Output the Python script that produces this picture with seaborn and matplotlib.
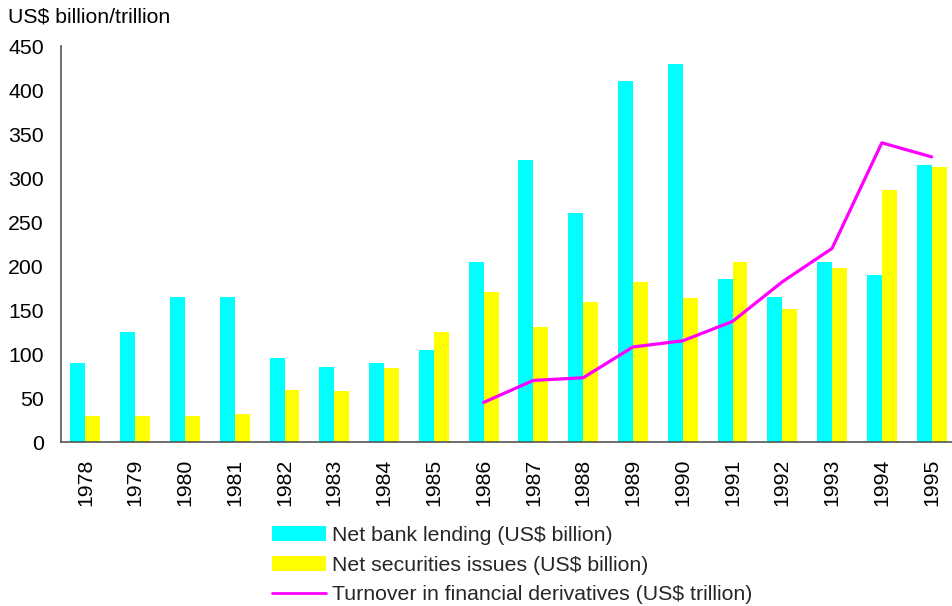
import matplotlib
matplotlib.use("Agg")
import matplotlib.pyplot as plt
import seaborn as sns
import pandas as pd
from matplotlib.ticker import FixedLocator
from matplotlib.patches import Patch
from matplotlib.lines import Line2D

years = [str(y) for y in range(1978, 1996)]
bank_lending = [90, 125, 165, 165, 95, 85, 90, 105, 205, 320, 260, 410, 430, 185, 165, 205, 190, 315]
securities = [29.5, 29, 29.5, 32, 59, 58, 84, 125, 171, 131, 159, 182, 164, 205, 151, 198, 286, 313]
deriv_years = [str(y) for y in range(1986, 1996)]
derivatives = [45, 70, 73, 108, 115, 137, 182, 220, 340, 324]

lbl_bank = "Net bank lending (US$ billion)"
lbl_sec = "Net securities issues (US$ billion)"
lbl_der = "Turnover in financial derivatives (US$ trillion)"

df = pd.DataFrame({
    "year": years * 2,
    "value": bank_lending + securities,
    "series": [lbl_bank] * len(years) + [lbl_sec] * len(years),
})

sns.set_theme(style="white")
plt.rcParams["font.family"] = ["Liberation Sans", "DejaVu Sans"]

FS = 15.3
W, H = 952, 606
fig = plt.figure(figsize=(W / 100, H / 100), dpi=100)
ax = fig.add_axes([60.5 / W, (H - 442) / H, 896 / W, 396 / H])

sns.barplot(data=df, x="year", y="value", hue="series", order=years,
            palette=["#00FFFF", "#FFFF00"], width=0.6, gap=0,
            saturation=1, ax=ax, legend=False, linewidth=0)

line_x = [years.index(y) for y in deriv_years]
sns.lineplot(x=line_x, y=derivatives, color="#FF00FF", linewidth=2.3, ax=ax)

ax.set_xlim(-0.5, len(years) - 0.5)
ax.set_ylim(0, 450)
ax.set_yticks(range(0, 451, 50))
ax.set_xlabel("")
ax.set_ylabel("")

for s in ["top", "right"]:
    ax.spines[s].set_visible(False)
for s in ["left", "bottom"]:
    ax.spines[s].set_color("#555555")
    ax.spines[s].set_linewidth(1.2)

ax.tick_params(axis="y", direction="in", length=5.5, width=1, color="#555555",
               labelsize=FS, labelcolor="black", pad=12)
ax.tick_params(axis="x", which="major", length=0, labelsize=FS,
               labelcolor="black", rotation=90, pad=12)
ax.xaxis.set_minor_locator(FixedLocator([i + 0.5 for i in range(len(years))]))
ax.tick_params(axis="x", which="minor", direction="in", length=5, width=1,
               color="#555555")

fig.text(8 / W, 1 - 17 / H, "US$ billion/trillion", fontsize=FS,
         ha="left", va="center", color="black")

handles = [Patch(facecolor="#00FFFF", edgecolor="none"),
           Patch(facecolor="#FFFF00", edgecolor="none"),
           Line2D([0], [0], color="#FF00FF", linewidth=2)]
fig.legend(handles, [lbl_bank, lbl_sec, lbl_der], loc="upper left",
           bbox_to_anchor=(272 / W, 1 - 526 / H), frameon=False,
           fontsize=FS, handlelength=2.55, handleheight=0.7,
           handletextpad=0.25, labelspacing=0.5, borderpad=0,
           borderaxespad=0)

fig.savefig("out.png", dpi=100)
